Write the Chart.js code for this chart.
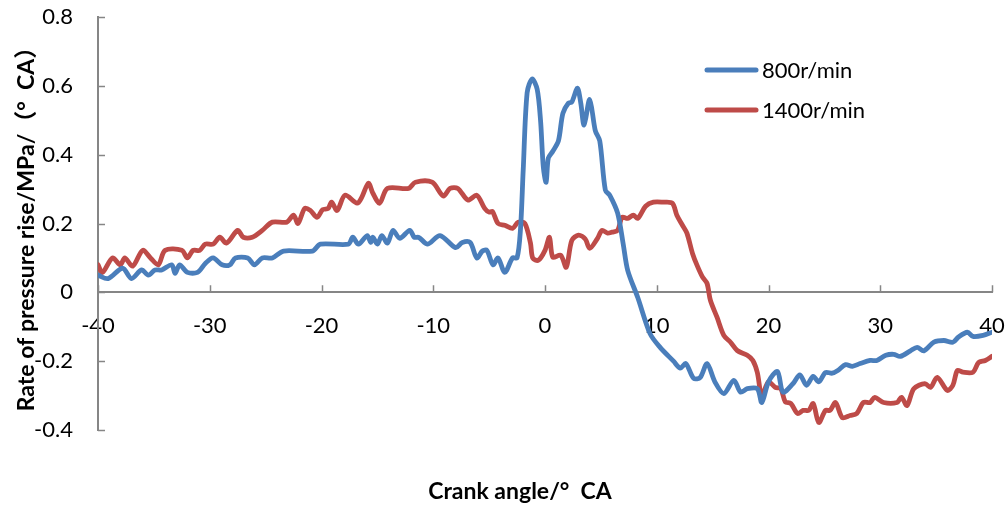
<!DOCTYPE html>
<html>
<head>
<meta charset="utf-8">
<script src="https://cdn.jsdelivr.net/npm/chart.js@4.4.1/dist/chart.umd.min.js"></script>
<style>
  body { margin: 0; background: #fff; }
  #chart { display: block; }
</style>
</head>
<body>
<canvas id="chart" width="1005" height="508"></canvas>
<script>
// crank angle (°CA) and pressure rise rate (MPa/°CA) for each speed
const angle800 = [-40, -39.1, -37.8, -37.0, -36.1, -35.5, -34.9, -34.3, -33.4, -33.1, -32.7, -32.0, -31.1, -30.4, -29.7, -28.9, -28.2, -27.7, -26.6, -26.0,
  -25.3, -24.4, -23.4, -20.8, -20.1, -17.6, -17.2, -16.7, -15.9, -15.6, -15.4, -15.0, -14.6, -14.1, -13.6, -13.0, -12.1, -11.7, -11.3, -10.5,
  -9.4, -8.0, -7.4, -6.7, -6.1, -5.6, -5.2, -4.65, -4.2, -3.6, -2.9, -2.5, -2.2, -1.95, -1.6, -1.15, -0.7, -0.4, -0.15, 0.1,
  0.3, 0.7, 1.2, 1.6, 2.1, 2.4, 2.9, 3.2, 3.5, 4.0, 4.5, 4.9, 5.4, 5.8, 6.5, 7.0, 7.4, 8.3, 9.4, 10.3,
  11.5, 12.1, 12.6, 13.3, 13.9, 14.5, 15.2, 16.0, 16.9, 17.5, 18.1, 19.0, 19.4, 20.0, 20.8, 21.3, 22.2, 22.8, 23.4, 24.0,
  24.5, 25.1, 25.7, 26.2, 26.9, 27.5, 28.2, 29.1, 29.7, 30.5, 31.2, 31.8, 32.7, 33.3, 33.9, 34.8, 35.7, 36.5, 37.0, 37.8,
  38.3, 39.2, 40];
const rate800 = [0.05, 0.04, 0.07, 0.04, 0.065, 0.05, 0.065, 0.065, 0.08, 0.055, 0.08, 0.058, 0.058, 0.084, 0.10, 0.08, 0.08, 0.10, 0.10, 0.08,
  0.10, 0.10, 0.12, 0.12, 0.14, 0.14, 0.16, 0.14, 0.165, 0.145, 0.16, 0.14, 0.165, 0.143, 0.18, 0.157, 0.18, 0.16, 0.16, 0.14,
  0.165, 0.13, 0.145, 0.145, 0.10, 0.12, 0.122, 0.08, 0.10, 0.058, 0.10, 0.10, 0.18, 0.355, 0.58, 0.62, 0.59, 0.50, 0.364, 0.32,
  0.39, 0.41, 0.44, 0.52, 0.55, 0.553, 0.593, 0.55, 0.486, 0.56, 0.47, 0.44, 0.297, 0.282, 0.23, 0.14, 0.064, -0.015, -0.12, -0.16,
  -0.20, -0.22, -0.207, -0.25, -0.247, -0.207, -0.26, -0.294, -0.256, -0.29, -0.28, -0.28, -0.32, -0.26, -0.23, -0.29, -0.265, -0.24, -0.27, -0.244,
  -0.26, -0.233, -0.235, -0.227, -0.21, -0.215, -0.207, -0.198, -0.198, -0.183, -0.18, -0.186, -0.17, -0.16, -0.17, -0.145, -0.14, -0.145, -0.13, -0.116,
  -0.128, -0.125, -0.116];

const angle1400 = [-40, -39.6, -38.7, -38.0, -37.6, -36.9, -36.0, -35.3, -34.6, -34.0, -32.5, -32.0, -31.5, -30.9, -30.4, -29.7, -29.1, -28.5, -27.5, -27.0,
  -26.2, -25.3, -24.4, -23.1, -22.5, -22.1, -21.5, -21.0, -20.4, -19.9, -19.4, -19.1, -18.6, -17.9, -16.8, -16.4, -15.8, -15.4, -14.8, -14.1,
  -12.2, -11.6, -10.1, -9.1, -8.5, -7.8, -6.9, -6.1, -5.4, -5.0, -4.7, -4.2, -3.6, -2.9, -2.4, -1.8, -1.3, -1.1, -0.6, 0.0,
  0.4, 0.7, 1.4, 1.9, 2.4, 3.0, 3.6, 4.0, 4.7, 5.1, 5.6, 6.0, 6.5, 6.9, 7.4, 7.9, 8.3, 9.0, 9.7, 10.6,
  11.4, 11.8, 12.3, 12.7, 13.2, 13.6, 14.1, 14.5, 14.8, 15.4, 16.0, 16.6, 17.2, 18.1, 18.6, 19.0, 19.4, 20.0, 20.6, 21.1,
  21.5, 22.0, 22.6, 23.1, 23.6, 24.0, 24.5, 25.1, 25.5, 26.0, 26.6, 27.3, 27.9, 28.5, 29.1, 29.5, 30.3, 31.5, 31.9, 32.4,
  33.0, 34.0, 34.5, 35.1, 36.0, 36.5, 36.9, 37.4, 38.3, 38.8, 39.4, 40];
const rate1400 = [0.08, 0.058, 0.10, 0.08, 0.10, 0.076, 0.122, 0.10, 0.08, 0.122, 0.122, 0.10, 0.122, 0.122, 0.14, 0.14, 0.16, 0.143, 0.18, 0.16,
  0.16, 0.18, 0.204, 0.204, 0.224, 0.20, 0.244, 0.238, 0.218, 0.24, 0.244, 0.262, 0.238, 0.282, 0.259, 0.276, 0.317, 0.288, 0.259, 0.302,
  0.302, 0.32, 0.32, 0.28, 0.302, 0.302, 0.268, 0.282, 0.244, 0.233, 0.235, 0.20, 0.195, 0.186, 0.204, 0.20, 0.143, 0.10, 0.093, 0.122,
  0.16, 0.102, 0.108, 0.073, 0.151, 0.166, 0.155, 0.128, 0.157, 0.18, 0.172, 0.175, 0.18, 0.218, 0.215, 0.224, 0.215, 0.25, 0.262, 0.262,
  0.259, 0.224, 0.195, 0.172, 0.113, 0.079, 0.044, 0.026, -0.023, -0.073, -0.125, -0.145, -0.169, -0.183, -0.198, -0.233, -0.30, -0.26, -0.276, -0.28,
  -0.318, -0.323, -0.352, -0.343, -0.343, -0.323, -0.378, -0.343, -0.343, -0.32, -0.364, -0.358, -0.352, -0.32, -0.32, -0.305, -0.32, -0.32, -0.305, -0.329,
  -0.28, -0.265, -0.276, -0.247, -0.285, -0.27, -0.227, -0.232, -0.232, -0.204, -0.198, -0.186];

const seriesNames = ['800r/min', '1400r/min'];
const seriesColors = ['#4A7EBB', '#BE4B48'];
const xTickValues = [-40, -30, -20, -10, 0, 10, 20, 30, 40];
const yTickValues = [-0.4, -0.2, 0, 0.2, 0.4, 0.6, 0.8];
const xTitle = 'Crank angle/°  CA';
const yTitle = 'Rate of pressure rise/MPa/（°  CA）';

const axisColor = '#868686';
const fontFamily = 'Lato, "Noto Sans CJK SC", sans-serif';

const toPoints = (xs, ys) => xs.map((x, i) => ({ x: x, y: ys[i] }));

// inward tick marks on both axes
const innerTicks = {
  id: 'innerTicks',
  afterDatasetsDraw(chart) {
    const { ctx, chartArea, scales: { x, y } } = chart;
    const y0 = y.getPixelForValue(0);
    ctx.save();
    ctx.strokeStyle = axisColor;
    ctx.lineWidth = 1.5;
    ctx.beginPath();
    x.ticks.forEach(t => {
      const px = Math.round(x.getPixelForValue(t.value)) + 0.5;
      ctx.moveTo(px, y0);
      ctx.lineTo(px, y0 - 7);
    });
    y.ticks.forEach(t => {
      const py = Math.round(y.getPixelForValue(t.value)) + 0.5;
      ctx.moveTo(chartArea.left, py);
      ctx.lineTo(chartArea.left + 7, py);
    });
    ctx.stroke();
    ctx.restore();
  }
};

// legend inside the plot (upper right) and the x axis title at the bottom
const innerLegend = {
  id: 'innerLegend',
  afterDraw(chart) {
    const ctx = chart.ctx;
    ctx.save();
    ctx.font = '22px ' + fontFamily;
    ctx.textBaseline = 'middle';
    chart.data.datasets.forEach((ds, i) => {
      const ly = 70 + i * 40;
      ctx.strokeStyle = ds.borderColor;
      ctx.lineWidth = 5;
      ctx.lineCap = 'round';
      ctx.beginPath();
      ctx.moveTo(707, ly);
      ctx.lineTo(756, ly);
      ctx.stroke();
      ctx.fillStyle = '#000';
      ctx.fillText(ds.label, 762, ly + 1);
    });
    ctx.font = 'bold 23px ' + fontFamily;
    ctx.textAlign = 'center';
    ctx.fillText(xTitle, 520, 492);
    ctx.restore();
  }
};

const zeroPad = scale => {
  scale.paddingLeft = 0;
  scale.paddingRight = 0;
  scale.paddingTop = 0;
  scale.paddingBottom = 0;
};

new Chart(document.getElementById('chart'), {
  type: 'line',
  data: {
    datasets: [
      { label: seriesNames[0], data: toPoints(angle800, rate800), borderColor: seriesColors[0] },
      { label: seriesNames[1], data: toPoints(angle1400, rate1400), borderColor: seriesColors[1] }
    ]
  },
  options: {
    responsive: false,
    animation: false,
    layout: { padding: { left: 0, right: 13, top: 17, bottom: 78 } },
    elements: {
      point: { radius: 0 },
      line: { borderWidth: 4.8, tension: 0.3, fill: false, borderCapStyle: 'round', borderJoinStyle: 'round' }
    },
    scales: {
      x: {
        type: 'linear',
        position: { y: 0 },
        min: -40,
        max: 40,
        afterBuildTicks: s => { s.ticks = xTickValues.map(v => ({ value: v })); },
        afterFit: zeroPad,
        grid: { drawOnChartArea: false, drawTicks: false },
        border: { color: axisColor, width: 2 },
        ticks: {
          padding: 20,
          color: '#000',
          font: { family: fontFamily, size: 22 },
          maxRotation: 0,
          callback: v => String(v)
        }
      },
      y: {
        type: 'linear',
        position: 'left',
        min: -0.4,
        max: 0.8,
        afterBuildTicks: s => { s.ticks = yTickValues.map(v => ({ value: v })); },
        afterFit: s => { zeroPad(s); s.width = 98; },
        grid: { drawOnChartArea: false, drawTicks: false },
        border: { color: axisColor, width: 2 },
        ticks: {
          padding: 25,
          color: '#000',
          font: { family: fontFamily, size: 22 },
          callback: v => String(+v.toFixed(1))
        },
        title: {
          display: true,
          text: yTitle,
          color: '#000',
          font: { family: fontFamily, size: 23, weight: 'bold' },
          padding: { top: 13, bottom: 0 }
        }
      }
    },
    plugins: {
      legend: { display: false },
      tooltip: { enabled: false },
      title: { display: false }
    }
  },
  plugins: [innerTicks, innerLegend]
});
</script>
</body>
</html>
